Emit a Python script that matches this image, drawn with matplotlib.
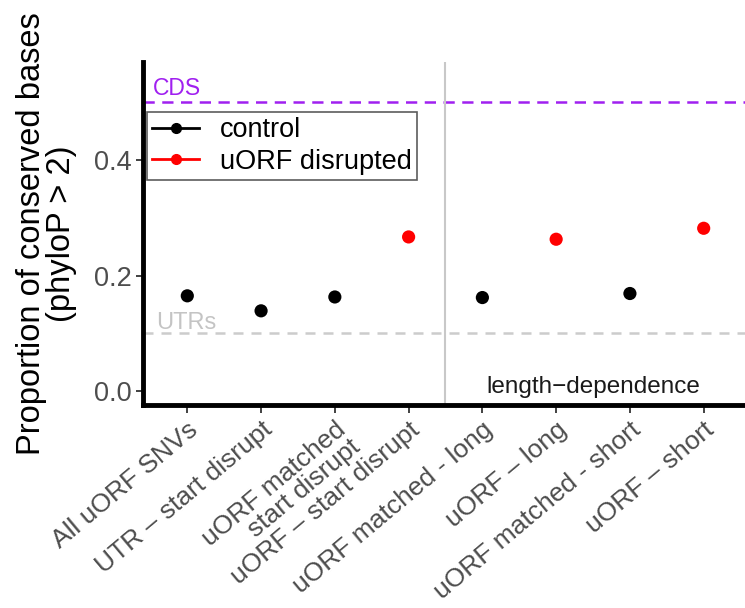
import numpy as np
import matplotlib.pyplot as plt

plt.rcParams['font.family'] = ['Liberation Sans', 'DejaVu Sans']

# conserved base proportions per group
labels = ['All uORF SNVs', 'UTR – start disrupt', 'uORF matched\nstart disrupt',
          'uORF – start disrupt', 'uORF matched - long', 'uORF – long',
          'uORF matched - short', 'uORF – short']
values = [0.165, 0.139, 0.163, 0.267, 0.162, 0.263, 0.169, 0.282]
disrupted = [False, False, False, True, False, True, False, True]
cds_level = 0.5
utr_level = 0.1

x = np.arange(1, len(labels) + 1)
colors = ['red' if d else 'black' for d in disrupted]

fig = plt.figure(figsize=(7.45, 6.08), dpi=100)
ax = fig.add_axes([0.192, 0.334, 0.808, 0.564])

ax.axhline(cds_level, color='#a020f0', ls=(0, (4.5, 3)), lw=1.8, zorder=1)
ax.axhline(utr_level, color='#cccccc', ls=(0, (4, 3.2)), lw=1.8, zorder=1)
ax.axvline(4.5, color='#c8c8c8', lw=1.5, zorder=1)
ax.text(0.53, cds_level + 0.012, 'CDS', color='#a020f0', fontsize=16.5,
        va='baseline')
ax.text(0.58, utr_level + 0.007, 'UTRs', color='#c4c4c4', fontsize=17,
        va='baseline')
ax.text(6.5, -0.003, 'length\u2212dependence', color='#1a1a1a', fontsize=17.5,
        ha='center', va='baseline')

ax.scatter(x, values, c=colors, s=90, zorder=3, linewidths=0)

ax.plot([], [], color='black', marker='o', ms=7, lw=2, label='control')
ax.plot([], [], color='red', marker='o', ms=7, lw=2, label='uORF disrupted')
leg = ax.legend(loc='upper left', bbox_to_anchor=(0.006, 0.854), fontsize=19.5,
                frameon=True, fancybox=False, borderpad=0.2, handlelength=1.75,
                labelspacing=0.2, handletextpad=0.75, borderaxespad=0)
leg.get_frame().set_edgecolor('#333333')
leg.get_frame().set_linewidth(1.2)

ax.set_xlim(0.4, 8.56)
ax.set_ylim(-0.024, 0.57)
ax.set_yticks([0.0, 0.2, 0.4])
ax.set_yticklabels(['0.0', '0.2', '0.4'])
ax.set_xticks(x)
ax.set_xticklabels(labels, rotation=40, ha='right', rotation_mode='anchor',
                   fontsize=19, color='#4d4d4d', linespacing=0.9)
ax.tick_params(axis='y', labelsize=19.5, labelcolor='#4d4d4d', length=5,
               width=1.3, color='#333333', pad=3)
ax.tick_params(axis='x', length=6, width=1.3, color='#333333', pad=3)
ax.set_ylabel('Proportion of conserved bases\n(phyloP > 2)', fontsize=23.5,
              linespacing=0.95)
ax.yaxis.set_label_coords(-0.11, 0.5)

for s in ['top', 'right']:
    ax.spines[s].set_visible(False)
for s in ['left', 'bottom']:
    ax.spines[s].set_linewidth(3.5)
    ax.spines[s].set_color('black')

fig.savefig('out.png', dpi=100)
